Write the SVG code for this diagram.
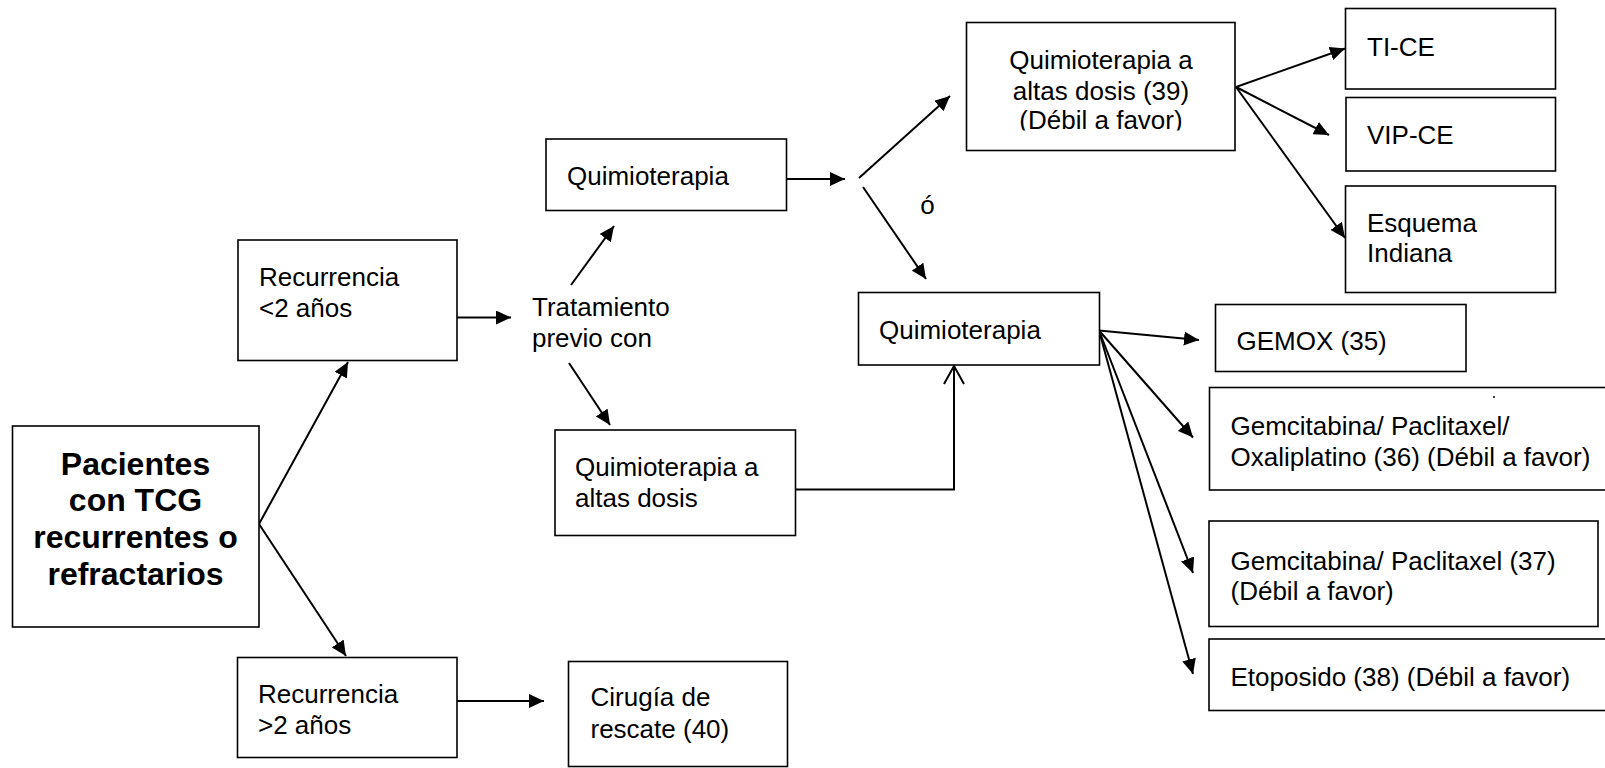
<svg xmlns="http://www.w3.org/2000/svg" width="1605" height="768" viewBox="0 0 1605 768">
<defs>
<style>
.box{fill:#fff;stroke:#000;stroke-width:1.6}
.t{font-family:"Liberation Sans",Arial,sans-serif;font-size:26px;fill:#000}
.b{font-family:"Liberation Sans",Arial,sans-serif;font-size:32px;font-weight:bold;fill:#000;text-anchor:middle}
.c{text-anchor:middle}
.ln{fill:none;stroke:#000;stroke-width:2}
</style>
<marker id="ah" markerUnits="userSpaceOnUse" markerWidth="16" markerHeight="14" refX="15" refY="7" orient="auto" viewBox="0 0 16 14">
<path d="M0,0 L15,7 L0,14 z" fill="#000"/>
</marker>
<marker id="oh" markerUnits="userSpaceOnUse" markerWidth="22" markerHeight="24" refX="19" refY="12" orient="auto" viewBox="0 0 22 24">
<path d="M1,2 L19,12 L1,22" fill="none" stroke="#000" stroke-width="2"/>
</marker>
<clipPath id="clipHD"><rect x="966" y="22" width="270" height="108.5"/></clipPath>
</defs>
<rect width="1605" height="768" fill="#fff"/>

<g id="connectors">
<line class="ln" x1="259" y1="524" x2="348" y2="362" marker-end="url(#ah)"/>
<line class="ln" x1="259" y1="524" x2="346" y2="656" marker-end="url(#ah)"/>
<line class="ln" x1="457" y1="317.5" x2="511" y2="317.5" marker-end="url(#ah)"/>
<line class="ln" x1="457" y1="701" x2="544" y2="701" marker-end="url(#ah)"/>
<line class="ln" x1="571" y1="285" x2="614" y2="226" marker-end="url(#ah)"/>
<line class="ln" x1="569" y1="363" x2="610" y2="425" marker-end="url(#ah)"/>
<line class="ln" x1="787" y1="179" x2="845" y2="179" marker-end="url(#ah)"/>
<line class="ln" x1="859" y1="178" x2="950" y2="96" marker-end="url(#ah)"/>
<line class="ln" x1="863" y1="187" x2="926" y2="279" marker-end="url(#ah)"/>
<path class="ln" d="M796,489.5 L954,489.5 L954,366" marker-end="url(#oh)"/>
<line class="ln" x1="1236" y1="87" x2="1345" y2="48.5" marker-end="url(#ah)"/>
<line class="ln" x1="1236" y1="87" x2="1329" y2="135" marker-end="url(#ah)"/>
<line class="ln" x1="1236" y1="87" x2="1345" y2="238" marker-end="url(#ah)"/>
<line class="ln" x1="1099" y1="330.5" x2="1199" y2="340" marker-end="url(#ah)"/>
<line class="ln" x1="1099" y1="330.5" x2="1193" y2="437.5" marker-end="url(#ah)"/>
<line class="ln" x1="1099" y1="330.5" x2="1193" y2="573" marker-end="url(#ah)"/>
<line class="ln" x1="1099" y1="330.5" x2="1193" y2="674" marker-end="url(#ah)"/>
</g>

<g id="pacientes">
<rect class="box" x="12.5" y="426" width="246.5" height="201"/>
<text class="b" x="135.5" y="475">Pacientes</text>
<text class="b" x="135.5" y="511">con TCG</text>
<text class="b" x="135.5" y="548">recurrentes o</text>
<text class="b" x="135.5" y="585">refractarios</text>
</g>

<g id="recurrencia-menos2">
<rect class="box" x="238" y="240" width="219" height="120.5"/>
<text class="t" x="259" y="286">Recurrencia</text>
<text class="t" x="259" y="317">&lt;2 años</text>
</g>

<g id="recurrencia-mas2">
<rect class="box" x="237.5" y="657.5" width="219.5" height="100"/>
<text class="t" x="258" y="703">Recurrencia</text>
<text class="t" x="258" y="733.5">&gt;2 años</text>
</g>

<g id="cirugia">
<rect class="box" x="568.5" y="661.5" width="219" height="105"/>
<text class="t" x="590.5" y="706">Cirugía de</text>
<text class="t" x="590.5" y="738">rescate (40)</text>
</g>

<g id="tratamiento">
<text class="t" x="532" y="316">Tratamiento</text>
<text class="t" x="532" y="347">previo con</text>
</g>

<g id="quimio-previa">
<rect class="box" x="546" y="139" width="240.5" height="71.5"/>
<text class="t" x="567" y="185">Quimioterapia</text>
</g>

<g id="altas-dosis-previa">
<rect class="box" x="555" y="430" width="240.5" height="105.5"/>
<text class="t" x="575" y="476">Quimioterapia a</text>
<text class="t" x="575" y="507">altas dosis</text>
</g>

<g id="o-label">
<text class="t c" x="927.5" y="214">ó</text>
</g>

<g id="quimio-altas-dosis">
<rect class="box" x="966.5" y="22.5" width="268.5" height="128"/>
<g clip-path="url(#clipHD)">
<text class="t c" x="1101" y="69">Quimioterapia a</text>
<text class="t c" x="1101" y="99.5">altas dosis (39)</text>
<text class="t c" x="1101" y="129">(Débil a favor)</text>
</g>
</g>

<g id="ti-ce">
<rect class="box" x="1345.5" y="8.5" width="210" height="80.5"/>
<text class="t" x="1367" y="56">TI-CE</text>
</g>

<g id="vip-ce">
<rect class="box" x="1346" y="97.5" width="209.5" height="73.5"/>
<text class="t" x="1367" y="144">VIP-CE</text>
</g>

<g id="esquema-indiana">
<rect class="box" x="1345.5" y="186" width="210" height="106.5"/>
<text class="t" x="1367" y="231.5">Esquema</text>
<text class="t" x="1367" y="262">Indiana</text>
</g>

<g id="quimio-segunda">
<rect class="box" x="858.5" y="292.5" width="241" height="72.5"/>
<text class="t" x="879" y="339">Quimioterapia</text>
</g>

<g id="gemox">
<rect class="box" x="1215.5" y="304.5" width="250.5" height="67"/>
<text class="t" x="1236.5" y="349.5">GEMOX (35)</text>
</g>

<g id="gem-pac-oxa">
<rect class="box" x="1209.5" y="387.5" width="400" height="102.5"/>
<text class="t" x="1230.5" y="435">Gemcitabina/ Paclitaxel/</text>
<text class="t" x="1230.5" y="466">Oxaliplatino (36) (Débil a favor)</text>
<circle cx="1494" cy="397" r="1" fill="#000"/>
</g>

<g id="gem-pac">
<rect class="box" x="1209" y="521" width="389" height="105.5"/>
<text class="t" x="1230.5" y="569.5">Gemcitabina/ Paclitaxel (37)</text>
<text class="t" x="1230.5" y="600">(Débil a favor)</text>
</g>

<g id="etoposido">
<rect class="box" x="1209" y="639" width="400" height="71.5"/>
<text class="t" x="1230.5" y="686">Etoposido (38) (Débil a favor)</text>
</g>
</svg>
